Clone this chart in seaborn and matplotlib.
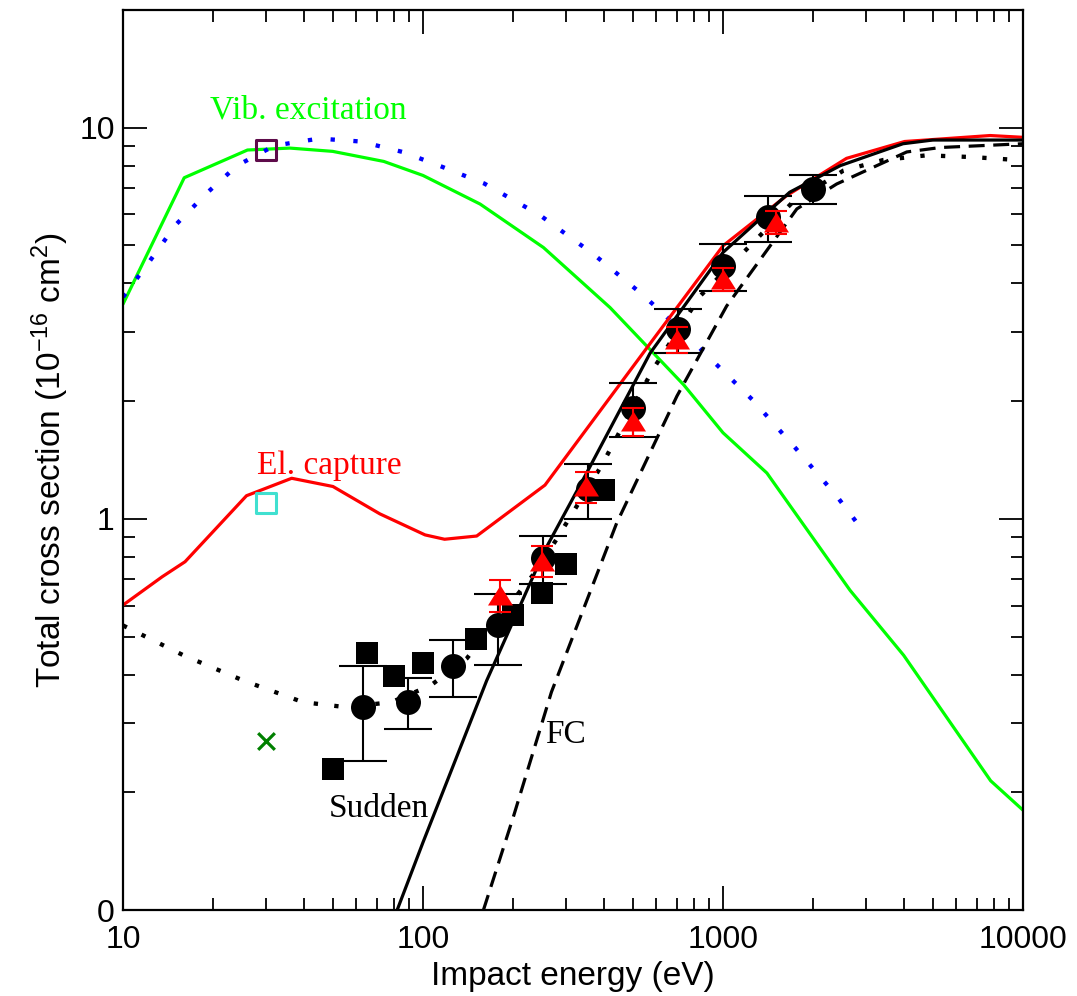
import numpy as np
import pandas as pd
import matplotlib
matplotlib.use("Agg")
import matplotlib.pyplot as plt
import seaborn as sns
from matplotlib.ticker import LogLocator, NullFormatter, FixedLocator, FixedFormatter

# ---------------- data ----------------
vib_E = [10, 16, 26, 36, 50, 74, 100, 155, 252, 420, 740, 1000, 1400, 2650, 4000, 7800, 10000]
vib_s = [3.54, 7.45, 8.77, 8.87, 8.7, 8.2, 7.55, 6.38, 4.94, 3.47, 2.2, 1.66, 1.31, 0.657, 0.448, 0.214, 0.18]

vibth_E = [10, 12, 15, 19, 24, 32, 45, 62, 86, 116, 160, 245, 370, 540, 780, 1250, 1740, 2400, 3000]
vibth_s = [3.69, 4.45, 5.65, 6.8, 8.0, 9.0, 9.38, 9.22, 8.66, 7.94, 7.2, 5.98, 4.75, 3.74, 2.88, 2.02, 1.52, 1.14, 0.91]

cap_E = [10, 13.5, 16.1, 25.8, 36.5, 50.1, 71.8, 101.6, 118, 151, 255, 570, 1000, 1628, 2580, 4030, 7770, 10000]
cap_s = [0.602, 0.711, 0.777, 1.146, 1.27, 1.21, 1.03, 0.91, 0.887, 0.904, 1.22, 2.8, 4.99, 6.7, 8.35, 9.22, 9.55, 9.45]

sud_E = [78, 82, 100, 125, 163, 255, 351, 571, 1000, 1668, 2460, 3980, 5000, 10000]
sud_s = [0.091, 0.1, 0.149, 0.23, 0.386, 0.833, 1.31, 2.65, 4.8, 6.84, 8.0, 9.1, 9.3, 9.3]

fc_E = [150, 159, 200, 268, 442, 702, 1028, 1762, 2392, 4096, 5300, 10000]
fc_s = [0.087, 0.1, 0.173, 0.361, 0.975, 2.06, 3.5, 6.2, 7.18, 8.67, 8.9, 9.1]

dot_E = [10, 15.9, 25.2, 39.8, 55.5, 78.4, 106, 140, 233, 278, 395, 584, 838, 1230, 1706, 2520, 3420, 4770, 6830, 10000]
dot_s = [0.534, 0.448, 0.386, 0.34, 0.33, 0.34, 0.375, 0.44, 0.72, 0.884, 1.375, 2.41, 3.71, 4.99, 6.45, 7.77, 8.27, 8.5, 8.41, 8.25]

circ_E = [63.1, 89.1, 125.9, 177.8, 251.2, 354.8, 501.2, 707.9, 1000, 1412.5, 1995]
circ_s = [0.33, 0.341, 0.42, 0.534, 0.793, 1.19, 1.92, 3.05, 4.43, 5.9, 6.97]
circ_err = [0.09, 0.05, 0.07, 0.11, 0.11, 0.19, 0.3, 0.4, 0.6, 0.8, 0.6]

sq_E = [50, 65, 80, 100, 150, 200, 250, 300, 400]
sq_s = [0.23, 0.455, 0.397, 0.427, 0.494, 0.567, 0.645, 0.767, 1.187]

tri_E = [180, 250, 350, 500, 700, 1000, 1500]
tri_s = [0.638, 0.782, 1.21, 1.775, 2.88, 4.1, 5.73]
tri_err = [0.06, 0.07, 0.11, 0.15, 0.22, 0.28, 0.39]

single_E = [30, 30, 30]
single_s = [8.77, 1.1, 0.271]

xticks = [10, 100, 1000, 10000]
xticklabels = ["10", "100", "1000", "10000"]
yticks = [0.1, 1, 10]
yticklabels = ["0", "1", "10"]

# ---------------- style ----------------
sns.set_style("ticks")
plt.rcParams["font.family"] = ["Liberation Sans", "DejaVu Sans"]
plt.rcParams["mathtext.fontset"] = "custom"
plt.rcParams["mathtext.rm"] = "Liberation Sans"
plt.rcParams["mathtext.it"] = "Liberation Sans:italic"
plt.rcParams["mathtext.bf"] = "Liberation Sans:bold"
for k in ["text.color", "axes.labelcolor", "xtick.color", "ytick.color", "axes.edgecolor"]:
    plt.rcParams[k] = "black"

fig, ax = plt.subplots(figsize=(10.77, 9.96), dpi=100)
fig.subplots_adjust(left=0.1142, right=0.9499, bottom=0.0863, top=0.99)
ax.set_xscale("log")
ax.set_yscale("log")

LW = 2.3

def line(x, y, color, ls="-", lw=LW, z=2):
    sns.lineplot(x=x, y=y, ax=ax, color=color, linewidth=lw, linestyle=ls,
                 sort=False, estimator=None, zorder=z)

line(vib_E, vib_s, "#00ff00")
line(vibth_E, vibth_s, "#0000ff", ls=(0, (1, 4.3)), lw=3.1)
line(cap_E, cap_s, "#ff0000")
line(sud_E, sud_s, "black")
line(fc_E, fc_s, "black", ls=(0, (5, 2.7)))
line(dot_E, dot_s, "black", ls=(0, (1, 3.8)), lw=3.1)

# error bars
ax.errorbar(circ_E, circ_s, yerr=circ_err, fmt="none", ecolor="black",
            elinewidth=1.5, capsize=17, capthick=1.5, zorder=3)

sns.scatterplot(x=sq_E, y=sq_s, ax=ax, marker="s", s=16**2, color="black",
                edgecolor="black", linewidth=0, zorder=4)
sns.scatterplot(x=circ_E, y=circ_s, ax=ax, marker="o", s=18**2, color="black",
                edgecolor="black", linewidth=0, zorder=5)

ax.errorbar(tri_E, tri_s, yerr=tri_err, fmt="none", ecolor="#ff0000",
            elinewidth=1.5, capsize=8, capthick=1.5, zorder=6)
tri_marker = [(-1, -0.8), (1, -0.8), (0, 0.8), (-1, -0.8)]
sns.scatterplot(x=tri_E, y=tri_s, ax=ax, marker=tri_marker, s=18**2, color="#ff0000",
                edgecolor="#ff0000", linewidth=0, zorder=7)

# single points at 30 eV
sns.scatterplot(x=single_E[:1], y=single_s[:1], ax=ax, marker="s", s=14.5**2,
                facecolor="none", edgecolor="#5e0b4a", linewidth=2.2, zorder=8)
sns.scatterplot(x=single_E[1:2], y=single_s[1:2], ax=ax, marker="s", s=14.5**2,
                facecolor="none", edgecolor="#40e0d0", linewidth=2.2, zorder=8)
ax.scatter(single_E[2:], single_s[2:], marker="x", s=12**2, color="#008000",
           linewidths=2.3, zorder=8)

# text labels
serif = ["Liberation Serif", "DejaVu Serif"]
ax.text(41.4, 11.1, "Vib. excitation", color="#00ff00", fontsize=24, family=serif,
        ha="center", va="center")
ax.text(48.9, 1.37, "El. capture", color="#ff0000", fontsize=24, family=serif,
        ha="center", va="center")
ax.text(71.2, 0.182, "Sudden", color="black", fontsize=24, family=serif,
        ha="center", va="center")
ax.text(299, 0.28, "FC", color="black", fontsize=24, family=serif,
        ha="center", va="center")

# axes
ax.set_xlim(10, 10000)
ax.set_ylim(0.1, 20)
ax.xaxis.set_major_locator(FixedLocator(xticks))
ax.xaxis.set_major_formatter(FixedFormatter(xticklabels))
ax.yaxis.set_major_locator(FixedLocator(yticks))
ax.yaxis.set_major_formatter(FixedFormatter(yticklabels))
ax.xaxis.set_minor_locator(LogLocator(base=10, subs=np.arange(2, 10), numticks=20))
ax.yaxis.set_minor_locator(LogLocator(base=10, subs=np.arange(2, 10), numticks=20))
ax.xaxis.set_minor_formatter(NullFormatter())
ax.yaxis.set_minor_formatter(NullFormatter())
ax.tick_params(which="both", direction="in", top=True, right=True, width=1.3, color="black")
ax.tick_params(which="major", length=17, labelsize=23, labelcolor="black")
ax.tick_params(which="minor", length=8.5)
ax.tick_params(axis="x", which="major", pad=11)
ax.tick_params(axis="y", which="major", pad=6)
for sp in ax.spines.values():
    sp.set_linewidth(1.6)
    sp.set_color("black")

ax.set_xlabel("Impact energy (eV)", fontsize=24, labelpad=4, color="black")
ax.set_ylabel(r"Total cross section (10$^{-16}$ cm$^{2}$)", fontsize=24, labelpad=6, color="black")

fig.savefig("out.png", dpi=100)
